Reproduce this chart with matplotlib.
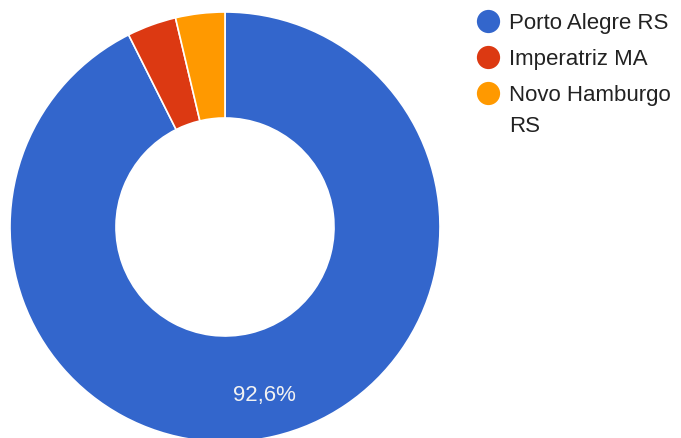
import matplotlib
matplotlib.use('Agg')
import matplotlib.pyplot as plt

# datos
cidades = ['Porto Alegre RS', 'Imperatriz MA', 'Novo Hamburgo\nRS']
valores = [92.6, 3.7, 3.7]
cores = ['#3366CC', '#DC3912', '#FF9900']

plt.rcParams['font.family'] = ['Liberation Sans', 'DejaVu Sans']

fig = plt.figure(figsize=(6.81, 4.39), dpi=100)
ax = fig.add_axes([0, 0, 1, 1])

def rotulo(p):
    if p < 5:
        return ''
    return ('%.1f%%' % p).replace('.', ',')

wedges, textos, pcts = ax.pie(valores, colors=cores, radius=215, center=(225, 211),
                              startangle=90, counterclock=False, autopct=rotulo,
                              pctdistance=0.8, frame=True,
                              wedgeprops=dict(width=106, edgecolor='white', linewidth=1.2))
for t in pcts:
    t.set_color('#f2f2f2')
    t.set_fontsize(16)

ax.set_xlim(0, 681)
ax.set_ylim(0, 439)
ax.set_aspect('equal')
ax.axis('off')

# legenda
y = 439 - 22
for nome, cor in zip(cidades, cores):
    ax.scatter([488], [y], s=280, color=cor, clip_on=False, linewidths=0)
    ax.text(509, y + 9, nome, fontsize=16, color='#222222', va='top', ha='left',
            linespacing=1.6)
    y -= 36

fig.savefig('out.png')
